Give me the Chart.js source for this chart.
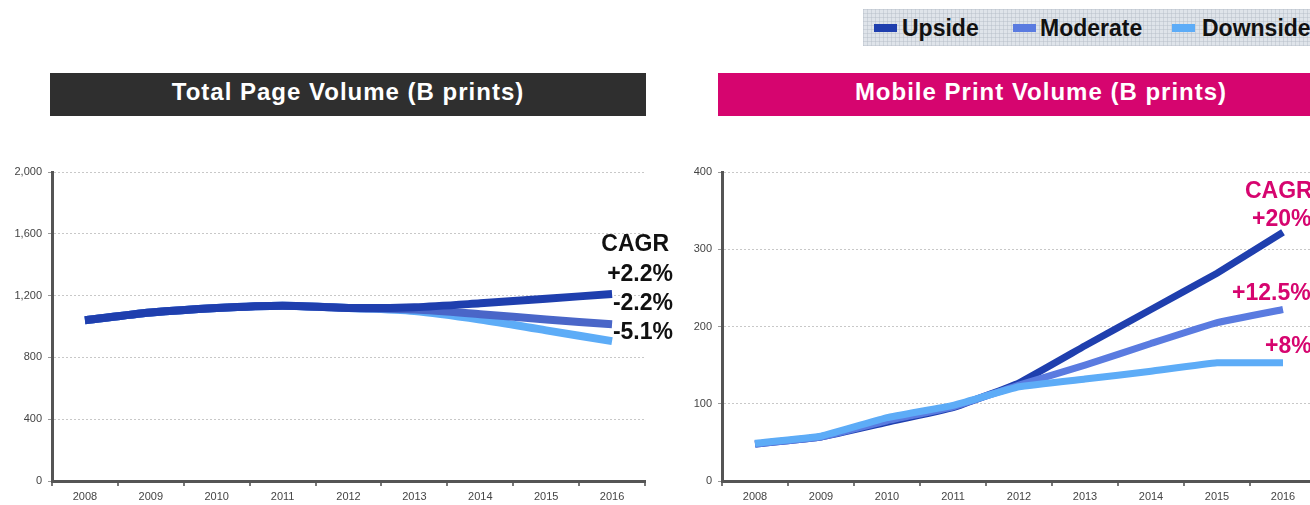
<!DOCTYPE html>
<html>
<head>
<meta charset="utf-8">
<script src="https://cdn.jsdelivr.net/npm/chart.js@4"></script>
<style>
  html, body { margin: 0; padding: 0; background: #fff; }
  body { width: 1310px; height: 505px; overflow: hidden; position: relative; font-family: "Liberation Sans", Arial, sans-serif; }
  .bar { position: absolute; top: 73px; height: 43px; color: #fff; font-weight: bold; font-size: 24px; letter-spacing: 1px; line-height: 38px; text-align: center; }
  .legend { position: absolute; left: 863px; top: 9px; width: 470px; height: 37px;
    background-color: #dfe4ea;
    background-image: repeating-linear-gradient(0deg, rgba(180,188,198,.45) 0 1px, transparent 1px 4px),
                      repeating-linear-gradient(90deg, rgba(180,188,198,.45) 0 1px, transparent 1px 4px); }
  .item { position: absolute; top: 0; height: 37px; line-height: 39px; font-weight: bold; font-size: 23px; color: #111; }
  .sw { position: absolute; top: 15px; width: 23px; height: 8px; }
  .note { position: absolute; font-weight: bold; font-size: 23px; line-height: 26px; text-align: right; }
  canvas { position: absolute; }
  #wrapL { position: absolute; left: 0; top: 150px; width: 660px; height: 355px; }
  #wrapR { position: absolute; left: 670px; top: 150px; width: 660px; height: 355px; }
</style>
</head>
<body>
<div class="legend">
  <div class="sw" style="left:11px;background:#1f3fae"></div><div class="item" style="left:39px">Upside</div>
  <div class="sw" style="left:150px;background:#5a7be0"></div><div class="item" style="left:177px">Moderate</div>
  <div class="sw" style="left:309px;background:#5dacf7"></div><div class="item" style="left:339px">Downside</div>
</div>

<div class="bar" style="left:50px;width:596px;background:#2f2f2f">Total Page Volume (B prints)</div>
<div class="bar" style="left:718px;width:646px;background:#d6056f">Mobile Print Volume (B prints)</div>

<div id="wrapL"><canvas id="chartL"></canvas></div>
<div id="wrapR"><canvas id="chartR"></canvas></div>

<div class="note" style="left:560px;top:230px;width:109px;color:#111">CAGR</div>
<div class="note" style="left:560px;top:260px;width:113px;color:#111">+2.2%</div>
<div class="note" style="left:560px;top:289px;width:113px;color:#111">-2.2%</div>
<div class="note" style="left:560px;top:318px;width:113px;color:#111">-5.1%</div>

<div class="note" style="left:1245px;top:177px;color:#d6056f;text-align:left">CAGR</div>
<div class="note" style="left:1252px;top:205px;color:#d6056f;text-align:left">+20%</div>
<div class="note" style="left:1232px;top:279px;color:#d6056f;text-align:left">+12.5%</div>
<div class="note" style="left:1265px;top:332px;color:#d6056f;text-align:left">+8%</div>

<script>
// data
const years = ["2008", "2009", "2010", "2011", "2012", "2013", "2014", "2015", "2016"];

const totalUpside   = [1040, 1090, 1120, 1135, 1120, 1125, 1150, 1180, 1210];
const totalModerate = [1040, 1090, 1120, 1135, 1120, 1110, 1080, 1045, 1015];
const totalDownside = [1040, 1090, 1120, 1135, 1120, 1100, 1045, 975, 905];
const totalTicks = { min: 0, max: 2000, step: 400 };

const mobileUpside   = [48, 57, 76, 95, 127, 175, 222, 269, 322];
const mobileModerate = [48, 57, 78, 96, 124, 150, 178, 205, 222];
const mobileDownside = [49, 58, 82, 98, 122, 132, 142, 153, 153];
const mobileTicks = { min: 0, max: 400, step: 100 };

const colUp = '#1f3fae', colMod = '#5a7be0', colDown = '#5dacf7';

function lineSet(label, data, color, width, tension) {
    return { label: label, data: data, borderColor: color, backgroundColor: color,
             borderWidth: width, pointRadius: 0, tension: tension, borderCapStyle: 'butt', fill: false };
}

function makeOptions(ticks, padRight) {
    const tickFont = { family: '"Liberation Sans Narrow", "Liberation Sans", Arial', size: 11 };
    return {
        responsive: true,
        maintainAspectRatio: false,
        animation: false,
        layout: { padding: { top: 22, right: padRight, left: 0, bottom: 0 } },
        plugins: { legend: { display: false }, tooltip: { enabled: false } },
        scales: {
            x: {
                offset: true,
                grid: { display: true, drawOnChartArea: false, drawTicks: true, tickLength: 5, offset: true, color: '#777', tickColor: '#777', lineWidth: 2 },
                border: { display: true, color: '#555', width: 3 },
                ticks: { color: '#444', font: tickFont, padding: 4, maxRotation: 0 },
                afterFit: s => { s.height = 24; }
            },
            y: {
                min: ticks.min, max: ticks.max,
                grid: { color: '#c8c8c8', lineWidth: 1, drawTicks: true, tickLength: 4, tickColor: '#999' },
                border: { display: true, color: '#555', width: 3, dash: [2, 2] },
                ticks: { stepSize: ticks.step, color: '#444', font: tickFont, padding: 6 },
                afterFit: s => { s.width = 52; }
            }
        }
    };
}

new Chart(document.getElementById('chartL'), {
    type: 'line',
    data: {
        labels: years,
        datasets: [
            lineSet('Upside', totalUpside, colUp, 8, 0.3),
            lineSet('Moderate', totalModerate, '#4a66c8', 8, 0.3),
            lineSet('Downside', totalDownside, colDown, 8, 0.3)
        ]
    },
    options: makeOptions(totalTicks, 15)
});

new Chart(document.getElementById('chartR'), {
    type: 'line',
    data: {
        labels: years,
        datasets: [
            lineSet('Downside', mobileDownside, colDown, 7, 0.1),
            lineSet('Moderate', mobileModerate, colMod, 7, 0.1),
            lineSet('Upside', mobileUpside, colUp, 7, 0.1)
        ]
    },
    options: makeOptions(mobileTicks, 14)
});
</script>
</body>
</html>
